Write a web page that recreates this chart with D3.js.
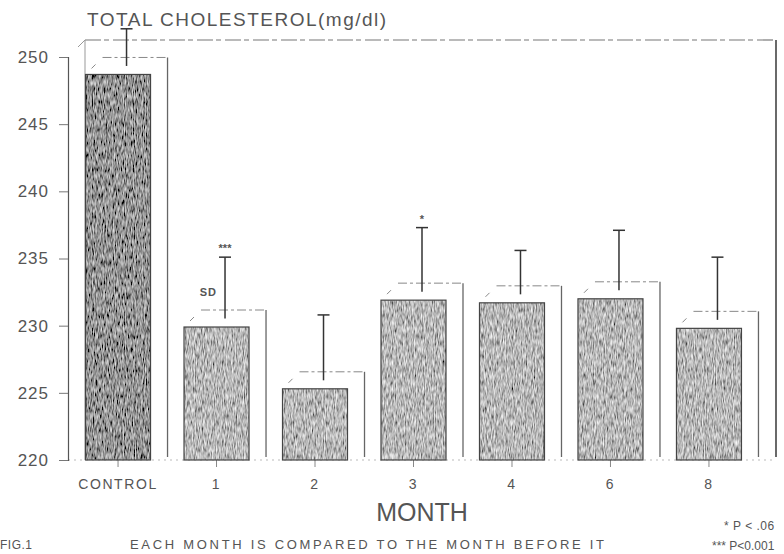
<!DOCTYPE html>
<html>
<head>
<meta charset="utf-8">
<script src="https://cdn.jsdelivr.net/npm/d3@7"></script>
<style>
  body { margin: 0; background: #fff; }
  text { font-family: "Liberation Sans", Arial, sans-serif; fill: #555; }
</style>
</head>
<body>
<script>
// values
const months = ["CONTROL", "1", "2", "3", "4", "6", "8"];
const meanChol = [248.7, 229.9, 225.3, 231.9, 231.7, 232.0, 229.8];
const upperSD = [252.1, 235.1, 230.8, 237.3, 235.6, 237.1, 235.1];
const yTicks = [220, 225, 230, 235, 240, 245, 250];
const marks = ["", "***", "", "*", "", "", ""];

const W = 784, H = 554;
const depth = 17; // fake 3d offset of the old plot

const svg = d3.select("body").append("svg")
    .attr("width", W)
    .attr("height", H);

const defs = svg.append("defs");

// grainy photocopy look for the bars
function grain(id, offset) {
    const f = defs.append("filter").attr("id", id)
        .attr("x", 0).attr("y", 0).attr("width", 1).attr("height", 1);
    f.append("feTurbulence")
        .attr("type", "fractalNoise")
        .attr("baseFrequency", "0.9 0.15")
        .attr("numOctaves", 2)
        .attr("seed", 11)
        .attr("result", "noise");
    f.append("feColorMatrix")
        .attr("in", "noise")
        .attr("type", "matrix")
        .attr("values", `1.2 0 0 0 ${offset}  1.2 0 0 0 ${offset}  1.2 0 0 0 ${offset}  0 0 0 0 1`)
        .attr("result", "gray");
    f.append("feComposite")
        .attr("in", "gray")
        .attr("in2", "SourceGraphic")
        .attr("operator", "in");
}
grain("grainDark", -0.3);
grain("grainLight", -0.12);

const x = d3.scaleBand()
    .domain(months)
    .range([68, 759])
    .paddingInner(0.34)
    .paddingOuter(0.178);

const y = d3.scaleLinear()
    .domain([220, 250])
    .range([460, 57]);

const base = y(220);
const x0 = x.range()[0], x1 = x.range()[1];

// back wall of the plot box
const wall = svg.append("g")
    .attr("fill", "none")
    .attr("stroke", "#666");
wall.append("line")
    .attr("x1", x0 + depth).attr("x2", x1 + depth)
    .attr("y1", y(250) - depth).attr("y2", y(250) - depth)
    .attr("stroke", "#777")
    .attr("stroke-dasharray", "16 3 5 4")
    .attr("stroke-width", 1.2);
wall.append("line")
    .attr("x1", x1 + depth).attr("x2", x1 + depth)
    .attr("y1", y(250) - depth).attr("y2", base - 3)
    .attr("stroke-width", 1.6)
    .attr("stroke", "#444");
wall.append("line")
    .attr("x1", x0 + depth).attr("x2", x0 + depth)
    .attr("y1", y(250) - depth).attr("y2", base)
    .attr("stroke", "#999");
wall.append("line")
    .attr("x1", x0 + 10).attr("x2", x0 + depth)
    .attr("y1", y(250) - depth + 7).attr("y2", y(250) - depth)
    .attr("stroke", "#999");

// faint floor line
svg.append("line")
    .attr("x1", x0).attr("x2", x1 + depth)
    .attr("y1", base).attr("y2", base)
    .attr("stroke", "#bbb")
    .attr("stroke-dasharray", "2 4");

// y axis
const yAxis = svg.append("g")
    .attr("transform", `translate(${x0},0)`)
    .call(d3.axisLeft(y).tickValues(yTicks).tickSize(9).tickPadding(10).tickFormat(d3.format("d")));
yAxis.select(".domain").attr("stroke", "#555").attr("stroke-width", 1.2);
yAxis.selectAll(".tick line").attr("stroke", "#777");
yAxis.selectAll(".tick text")
    .style("font-size", "17px")
    .style("letter-spacing", "1px")
    .attr("fill", "#5a5a5a");

// x axis
const xAxis = svg.append("g")
    .attr("transform", `translate(0,${base})`)
    .call(d3.axisBottom(x).tickSize(7).tickPadding(12));
xAxis.select(".domain").remove();
xAxis.selectAll(".tick line").attr("stroke", "#888");
xAxis.selectAll(".tick text")
    .style("font-size", "14px")
    .style("letter-spacing", "1.6px")
    .attr("fill", "#666");

// bars
const bars = svg.append("g").selectAll("g")
    .data(months)
    .join("g");

// back outline of each 3d bar
bars.append("path")
    .attr("fill", "none")
    .attr("stroke", "#888")
    .attr("stroke-dasharray", "9 3 3 3")
    .attr("d", (d, i) => {
        const l = x(d), r = x(d) + x.bandwidth(), t = y(meanChol[i]);
        return `M${l + 6},${t - 6}L${l + 10},${t - 10}M${l + depth},${t - depth}H${r + depth}`;
    });
bars.append("line")
    .attr("stroke", "#666")
    .attr("stroke-width", 1.3)
    .attr("x1", d => x(d) + x.bandwidth() + depth)
    .attr("x2", d => x(d) + x.bandwidth() + depth)
    .attr("y1", (d, i) => y(meanChol[i]) - depth)
    .attr("y2", base - 3);

// front faces
bars.append("rect")
    .attr("x", d => x(d))
    .attr("y", (d, i) => y(meanChol[i]))
    .attr("width", x.bandwidth())
    .attr("height", (d, i) => base - y(meanChol[i]))
    .attr("fill", "#777")
    .attr("filter", (d, i) => i === 0 ? "url(#grainDark)" : "url(#grainLight)");
bars.append("rect")
    .attr("x", d => x(d))
    .attr("y", (d, i) => y(meanChol[i]))
    .attr("width", x.bandwidth())
    .attr("height", (d, i) => base - y(meanChol[i]))
    .attr("fill", "none")
    .attr("stroke", "#444")
    .attr("stroke-width", 1.2);

// SD whiskers
const ex = d => x(d) + x.bandwidth() / 2 + depth / 2;
bars.append("line")
    .attr("stroke", "#333")
    .attr("stroke-width", 1.5)
    .attr("x1", ex).attr("x2", ex)
    .attr("y1", (d, i) => y(meanChol[i]) - depth / 2)
    .attr("y2", (d, i) => y(upperSD[i]));
bars.append("line")
    .attr("stroke", "#333")
    .attr("stroke-width", 1.5)
    .attr("x1", d => ex(d) - 6).attr("x2", d => ex(d) + 6)
    .attr("y1", (d, i) => y(upperSD[i]))
    .attr("y2", (d, i) => y(upperSD[i]));

// significance marks
bars.append("text")
    .attr("x", ex)
    .attr("y", (d, i) => y(upperSD[i]) - 5)
    .attr("text-anchor", "middle")
    .style("font-size", "11px")
    .style("font-weight", "bold")
    .attr("fill", "#444")
    .text((d, i) => marks[i]);

svg.append("text")
    .attr("x", ex("1") - 8)
    .attr("y", y(232.2))
    .attr("text-anchor", "end")
    .style("font-size", "11px")
    .style("font-weight", "bold")
    .style("letter-spacing", "1px")
    .attr("fill", "#555")
    .text("SD");

// titles and notes
svg.append("text")
    .attr("x", 87).attr("y", 26)
    .style("font-size", "19px")
    .style("letter-spacing", "1.5px")
    .text("TOTAL CHOLESTEROL(mg/dl)");

svg.append("text")
    .attr("x", 422).attr("y", 521)
    .attr("text-anchor", "middle")
    .style("font-size", "25px")
    .text("MONTH");

svg.append("text")
    .attr("x", 0).attr("y", 549)
    .style("font-size", "12px")
    .style("letter-spacing", "0.5px")
    .text("FIG.1");

svg.append("text")
    .attr("x", 130).attr("y", 549)
    .style("font-size", "13px")
    .style("letter-spacing", "2.7px")
    .text("EACH MONTH IS COMPARED TO THE MONTH BEFORE IT");

svg.append("text")
    .attr("x", 724).attr("y", 530)
    .style("font-size", "12px")
    .style("letter-spacing", "0.5px")
    .text("* P < .06");

svg.append("text")
    .attr("x", 712).attr("y", 550)
    .style("font-size", "12px")
    .text("*** P<0.001");
</script>
</body>
</html>
